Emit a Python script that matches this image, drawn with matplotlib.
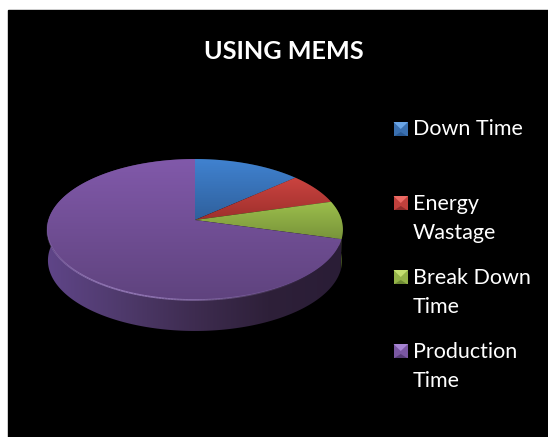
import numpy as np
import matplotlib
matplotlib.use("Agg")
import matplotlib.pyplot as plt
from matplotlib.colors import LinearSegmentedColormap
from matplotlib.patches import Polygon, Rectangle

# share of time in percent
labels = ["Down Time", "Energy\nWastage", "Break Down\nTime", "Production\nTime"]
values = [13.4, 7.2, 8.7, 70.7]
title = "USING MEMS"

top_colors = [("#4082d0", "#2f609c"), ("#cb4440", "#9e2f2c"),
              ("#9dbf4c", "#78943a"), ("#8159aa", "#5f437e")]
marker_colors = [("#6aa5e6", "#3a70b0", "#2a5a94"), ("#ec6a64", "#c0403c", "#8e2c2a"),
                 ("#c4e070", "#94b448", "#6e8a34"), ("#a684d2", "#7a57a2", "#553c76")]
baselines = [135, 239, 313, 387]
marker_tops = [122, 196, 270, 344]

W, H = 548, 437
cx, apex_y = 195, 220
rx_d, a, c = 146.6, 69.2, 0.1348
depth = 31

plt.rcParams["font.family"] = ["Lato", "DejaVu Sans"]

fig = plt.figure(figsize=(W / 100, H / 100), dpi=100, facecolor="white")
ax = fig.add_axes([0, 0, 1, 1])
ax.set_xlim(0, W)
ax.set_ylim(H, 0)
ax.axis("off")
ax.add_patch(Rectangle((8, 10), W, H, color="black", zorder=0))


def project(angle):
    # angle clockwise from 12 o'clock, tilted disc with the apex off centre
    x, y = np.sin(angle), np.cos(angle)
    d = 1 + c * y
    return cx + rx_d * x / d, apex_y - a * y / d


def gradient(patch, colors, extent, horizontal=False, z=2):
    cmap = LinearSegmentedColormap.from_list("g", colors)
    g = np.linspace(0, 1, 256)
    g = g[None, :] if horizontal else g[:, None]
    im = ax.imshow(g, cmap=cmap, extent=extent, aspect="auto", zorder=z,
                   interpolation="bilinear", vmin=0, vmax=1, origin="upper")
    im.set_clip_path(patch)
    ax.set_xlim(0, W)
    ax.set_ylim(H, 0)


edges = 2 * np.pi * np.concatenate([[0], np.cumsum(values)]) / sum(values)

# side wall
side_stops = ["#5f4588", "#4f3a6c", "#3e2c50", "#2e2039", "#2a1d36"]
for i in range(len(values)):
    t = np.linspace(edges[i], edges[i + 1], 300)
    px, py = project(t)
    pts = np.r_[np.c_[px, py], np.c_[px[::-1] - 0.006 * (px[::-1] - cx), py[::-1] + depth]]
    poly = Polygon(pts, closed=True, fc="none", ec="none")
    ax.add_patch(poly)
    cols = side_stops if i == 3 else ["#3c4a1e", "#3c4a1e"] if i == 2 else ["#222222", "#222222"]
    gradient(poly, cols, (47, 342, 340, 150), horizontal=True, z=1)

# top face
for i in range(len(values)):
    t = np.linspace(edges[i], edges[i + 1], 300)
    px, py = project(t)
    pts = np.r_[[[cx, apex_y]], np.c_[px, py]]
    poly = Polygon(pts, closed=True, fc="none", ec="none")
    ax.add_patch(poly)
    ext = (pts[:, 0].min() - 2, pts[:, 0].max() + 2, pts[:, 1].max(), pts[:, 1].min())
    gradient(poly, top_colors[i], ext, z=2)

# light rim along the front edge
t = np.radians(np.linspace(125, 285, 160))
px, py = project(t)
fade = np.sin(np.linspace(0, np.pi, 159)) ** 2
for j in range(159):
    ax.plot(px[j:j + 2], py[j:j + 2], color="#a68acb", lw=1.2, alpha=0.75 * fade[j],
            zorder=3, solid_capstyle="butt")

# legend, wrapped by hand the way the picture has it
for lab, base, top, cols in zip(labels, baselines, marker_tops, marker_colors):
    x0, x1, y0, y1 = 393.5, 408, top, top + 14
    xm, ym = (x0 + x1) / 2, (y0 + y1) / 2
    ax.add_patch(Polygon([(x0, y0), (x1, y0), (x1, y1), (x0, y1)], fc=cols[1], ec="none", zorder=4))
    ax.add_patch(Polygon([(x0, y0), (x1, y0), (xm, ym)], fc=cols[0], ec="none", zorder=5))
    ax.add_patch(Polygon([(x0 + 1, y1), (x1 - 1, y1), (xm, ym + 3)], fc=cols[2], ec="none", zorder=5))
    ax.text(413, base, lab, color="white", fontsize=15.5, va="baseline", ha="left",
            linespacing=1.55, zorder=6)

ax.text(284, 59, title, color="white", fontsize=18.2, fontweight="bold",
        ha="center", va="baseline", zorder=6)

fig.savefig("out.png", dpi=100, facecolor="white")
